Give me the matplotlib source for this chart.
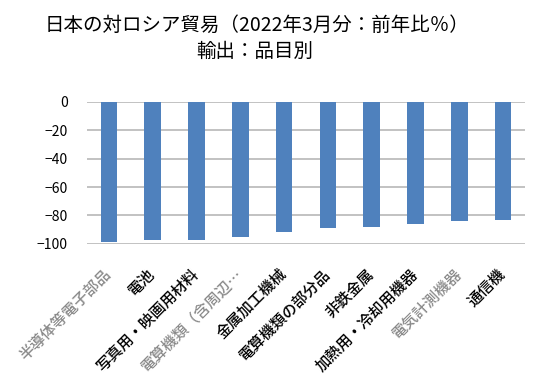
import matplotlib
matplotlib.use("Agg")
import matplotlib.pyplot as plt

plt.rcParams['font.family'] = ['Noto Sans CJK JP', 'DejaVu Sans']

# export change by item, March 2022 vs previous year (%)
items = ["半導体等電子部品", "電池", "写真用・映画用材料", "電算機類（含周辺…",
         "金属加工機械", "電算機類の部分品", "非鉄金属", "加熱用・冷却用機器",
         "電気計測機器", "通信機"]
change = [-99, -97, -97, -95, -92, -89, -88, -86, -84, -83]
label_colors = ["#8a8a8a", "black", "black", "#8a8a8a", "black",
                "black", "black", "black", "#8a8a8a", "black"]

fig = plt.figure(figsize=(5.44, 3.92), dpi=100)
ax = fig.add_axes([0.160, 0.378, 0.805, 0.362])

x = range(len(items))
ax.bar(x, change, width=0.38, color="#4F81BD", zorder=3)

ax.set_ylim(-100, 0)
ax.set_xlim(-0.5, len(items) - 0.5)
ax.set_yticks(range(-100, 1, 20))
ax.tick_params(axis="y", length=0, labelsize=10, pad=14)
ax.grid(axis="y", color="#bdbdbd", linewidth=1.3, zorder=0)
for s in ax.spines.values():
    s.set_visible(False)

ax.set_xticks(list(x))
ax.set_xticklabels(items, rotation=45, ha="right", va="center",
                   rotation_mode="anchor", fontsize=11, fontweight="medium")
ax.tick_params(axis="x", length=0, pad=20)
for lab, c in zip(ax.get_xticklabels(), label_colors):
    lab.set_color(c)

fig.text(0.472, 0.935, "日本の対ロシア貿易（2022年3月分：前年比％）",
         ha="center", va="center", fontsize=14)
fig.text(0.469, 0.868, "輸出：品目別", ha="center", va="center", fontsize=14)

fig.savefig("out.png", dpi=100)
